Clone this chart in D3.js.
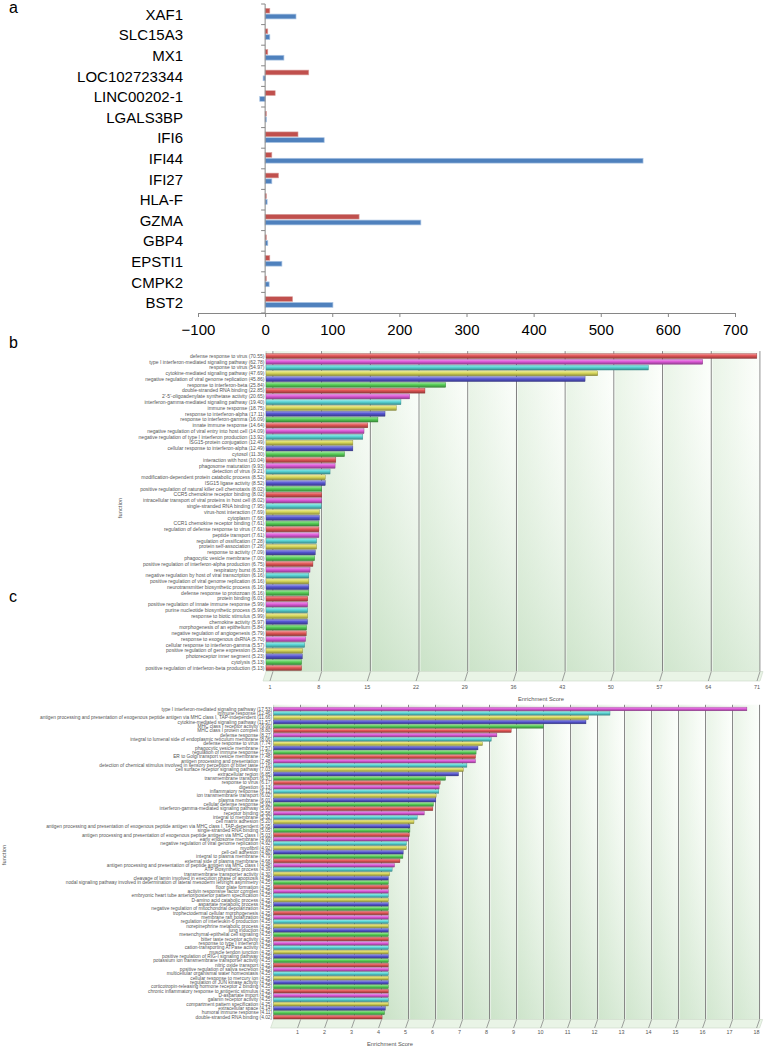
<!DOCTYPE html>
<meta charset="utf-8">
<style>
body { margin: 0; background: #fff; font-family: "Liberation Sans", Arial, sans-serif; }
svg { display: block; }
</style>
<body>
<svg width="764" height="1049"></svg>
<script src="https://d3js.org/d3.v7.min.js"></script>
<script>

// ---- panel a : gene fold changes ----
var geneNames = ["XAF1", "SLC15A3", "MX1", "LOC102723344", "LINC00202-1", "LGALS3BP", "IFI6",
    "IFI44", "IFI27", "HLA-F", "GZMA", "GBP4", "EPSTI1", "CMPK2", "BST2"];
var seriesRed  = [7, 4, 4, 65, 15, 2, 49, 10, 20, 2, 140, 2, 7, 2, 41];
var seriesBlue = [46, 7, 28, -3, -8, 2, 88, 563, 10, 3, 232, 4, 25, 6, 101];
var geneTicks = [-100, 0, 100, 200, 300, 400, 500, 600, 700];

// ---- panel b : enrichment (all terms) ----
var termsB = ["defense response to virus", "type I interferon-mediated signaling pathway", "response to virus",
    "cytokine-mediated signaling pathway", "negative regulation of viral genome replication", "response to interferon-beta",
    "double-stranded RNA binding", "2'-5'-oligoadenylate synthetase activity", "interferon-gamma-mediated signaling pathway",
    "immune response", "response to interferon-alpha", "response to interferon-gamma", "innate immune response",
    "negative regulation of viral entry into host cell", "negative regulation of type I interferon production",
    "ISG15-protein conjugation", "cellular response to interferon-alpha", "cytosol", "interaction with host",
    "phagosome maturation", "detection of virus", "modification-dependent protein catabolic process", "ISG15 ligase activity",
    "positive regulation of natural killer cell chemotaxis", "CCR5 chemokine receptor binding",
    "intracellular transport of viral proteins in host cell", "single-stranded RNA binding", "virus-host interaction",
    "cytoplasm", "CCR1 chemokine receptor binding", "regulation of defense response to virus", "peptide transport",
    "regulation of ossification", "protein self-association", "response to activity", "phagocytic vesicle membrane",
    "positive regulation of interferon-alpha production", "respiratory burst", "negative regulation by host of viral transcription",
    "positive regulation of viral genome replication", "neurotransmitter biosynthetic process", "defense response to protozoan",
    "protein binding", "positive regulation of innate immune response", "purine nucleotide biosynthetic process",
    "response to biotic stimulus", "chemokine activity", "morphogenesis of an epithelium", "negative regulation of angiogenesis",
    "response to exogenous dsRNA", "cellular response to interferon-gamma", "positive regulation of gene expression",
    "photoreceptor inner segment", "cytolysis", "positive regulation of interferon-beta production"];
var scoresB = [70.55, 62.78, 54.97, 47.69, 45.86, 25.84, 22.85, 20.65, 19.40, 18.75, 17.11, 16.09, 14.64, 14.09, 13.92,
    12.49, 12.49, 11.30, 10.04, 9.93, 9.21, 8.52, 8.52, 8.02, 8.02, 8.02, 7.95, 7.69, 7.68, 7.61, 7.61, 7.61, 7.28, 7.28,
    7.09, 7.00, 6.75, 6.33, 6.16, 6.16, 6.16, 6.16, 6.01, 5.99, 5.99, 5.99, 5.97, 5.84, 5.79, 5.70, 5.57, 5.28, 5.23, 5.13, 5.13];
var ticksB = [1, 8, 15, 22, 29, 36, 43, 50, 57, 64, 71];

// ---- panel c : enrichment (second set) ----
var termsC = ["type I interferon-mediated signaling pathway", "immune response",
    "antigen processing and presentation of exogenous peptide antigen via MHC class I, TAP-independent",
    "cytokine-mediated signaling pathway", "MHC class I receptor activity", "MHC class I protein complex", "defense response",
    "integral to lumenal side of endoplasmic reticulum membrane", "defense response to virus", "phagocytic vesicle membrane",
    "regulation of immune response", "ER to Golgi transport vesicle membrane", "antigen processing and presentation",
    "detection of chemical stimulus involved in sensory perception of bitter taste", "cell surface receptor signaling pathway",
    "extracellular region", "transmembrane transport", "response to virus", "digestion", "inflammatory response",
    "ion transmembrane transport", "plasma membrane", "cellular defense response", "interferon-gamma-mediated signaling pathway",
    "receptor binding", "integral to membrane", "cell matrix adhesion",
    "antigen processing and presentation of exogenous peptide antigen via MHC class I, TAP-dependent",
    "single-stranded RNA binding", "antigen processing and presentation of exogenous peptide antigen via MHC class I",
    "early endosome membrane", "negative regulation of viral genome replication", "myofibril", "cell-cell adhesion",
    "integral to plasma membrane", "external side of plasma membrane",
    "antigen processing and presentation of peptide antigen via MHC class I", "ATP biosynthetic process",
    "transmembrane transporter activity", "cleavage of lamin involved in execution phase of apoptosis",
    "nodal signaling pathway involved in determination of lateral mesoderm left/right asymmetry", "floor plate formation",
    "activin responsive factor complex", "embryonic heart tube anterior/posterior pattern specification",
    "D-amino acid catabolic process", "aspartate metabolic process", "negative regulation of mitochondrial depolarization",
    "trophectodermal cellular morphogenesis", "membrane raft polarization", "regulation of interleukin-6 production",
    "norepinephrine metabolic process", "lung induction", "mesenchymal-epithelial cell signaling",
    "bitter taste receptor activity", "response to type I interferon", "cation-transporting ATPase activity",
    "muscle tendon junction", "positive regulation of RIG-I signaling pathway",
    "potassium ion transmembrane transporter activity", "nitric oxide transport", "positive regulation of saliva secretion",
    "multicellular organismal water homeostasis", "cellular response to mercury ion", "regulation of JUN kinase activity",
    "corticotropin-releasing hormone receptor 2 binding", "chronic inflammatory response to antigenic stimulus",
    "D-aspartate import", "galanin receptor activity", "compartment pattern specification", "extracellular space",
    "humoral immune response", "double-stranded RNA binding"];
var scoresC = [17.53, 12.46, 11.66, 11.57, 9.99, 8.80, 8.27, 8.06, 7.74, 7.57, 7.50, 7.48, 7.48, 7.16, 7.03, 6.85, 6.37,
    6.17, 6.13, 6.12, 6.02, 6.01, 5.92, 5.90, 5.58, 5.32, 5.20, 5.05, 5.05, 5.03, 4.99, 4.92, 4.92, 4.80, 4.79, 4.68,
    4.48, 4.39, 4.30, 4.25, 4.25, 4.25, 4.25, 4.25, 4.25, 4.25, 4.25, 4.25, 4.25, 4.25, 4.25, 4.25, 4.25, 4.25,
    4.25, 4.25, 4.25, 4.25, 4.25, 4.25, 4.25, 4.25, 4.25, 4.25, 4.25, 4.25, 4.25, 4.25, 4.25, 4.14, 4.11, 4.02];
var ticksC = [1, 2, 3, 4, 5, 6, 7, 8, 9, 10, 11, 12, 13, 14, 15, 16, 17, 18];

var svg = d3.select("svg");
var defs = svg.append("defs");

// bar colours cycle in the enrichment charts
var palette = ["#e25656", "#de5bd9", "#58d5d5", "#d9d95b", "#5656d2", "#57cf57"];
palette.forEach(function(c, i) {
    var gr = defs.append("linearGradient").attr("id", "bar" + i)
        .attr("x1", 0).attr("y1", 0).attr("x2", 0).attr("y2", 1);
    gr.append("stop").attr("offset", "0%").attr("stop-color", d3.interpolateRgb(c, "#fff")(0.45));
    gr.append("stop").attr("offset", "45%").attr("stop-color", c);
    gr.append("stop").attr("offset", "100%").attr("stop-color", d3.interpolateRgb(c, "#000")(0.35));
});
var cellGrad = defs.append("linearGradient").attr("id", "cell").attr("x1", 0).attr("x2", 1);
cellGrad.append("stop").attr("offset", "0%").attr("stop-color", "#dfefdc");
cellGrad.append("stop").attr("offset", "100%").attr("stop-color", "#fbfefa");
var shade = defs.append("linearGradient").attr("id", "shade")
    .attr("x1", 0).attr("y1", 1).attr("x2", 0.25).attr("y2", 0);
shade.append("stop").attr("offset", "0%").attr("stop-color", "#b5d6b2").attr("stop-opacity", 0.6);
shade.append("stop").attr("offset", "100%").attr("stop-color", "#ffffff").attr("stop-opacity", 0.3);

// ---------------- panel a ----------------
var xA = d3.scaleLinear().domain([-100, 700]).range([198, 735]);
var yA = d3.scaleBand().domain(geneNames).range([4, 313]);
var gA = svg.append("g");

gA.selectAll(".red").data(geneNames).enter().append("rect")
    .attr("x", function(d, i) { return Math.min(xA(0), xA(seriesRed[i])); })
    .attr("y", function(d) { return yA(d) + 4.3; })
    .attr("width", function(d, i) { return Math.abs(xA(seriesRed[i]) - xA(0)); })
    .attr("height", 4.8)
    .attr("fill", "#c0504d").attr("stroke", "#dba3a1").attr("stroke-width", 0.6);
gA.selectAll(".blue").data(geneNames).enter().append("rect")
    .attr("x", function(d, i) { return Math.min(xA(0), xA(seriesBlue[i])); })
    .attr("y", function(d) { return yA(d) + 10.1; })
    .attr("width", function(d, i) { return Math.abs(xA(seriesBlue[i]) - xA(0)); })
    .attr("height", 4.8)
    .attr("fill", "#4f81bd").attr("stroke", "#a9c3e3").attr("stroke-width", 0.7);

gA.append("line").attr("x1", xA(0)).attr("x2", xA(0)).attr("y1", 4).attr("y2", 313)
    .attr("stroke", "#868686");
gA.selectAll(".ytick").data(geneNames.concat(["end"])).enter().append("line")
    .attr("x1", xA(0) - 4).attr("x2", xA(0))
    .attr("y1", function(d) { return d == "end" ? 313 : yA(d); })
    .attr("y2", function(d) { return d == "end" ? 313 : yA(d); })
    .attr("stroke", "#868686");
gA.selectAll(".gene").data(geneNames).enter().append("text")
    .attr("x", 183).attr("y", function(d) { return yA(d) + yA.bandwidth() / 2; })
    .attr("dy", "0.36em").attr("text-anchor", "end")
    .style("font-size", "15px").text(function(d) { return d; });

var axA = gA.append("g").attr("transform", "translate(0,313)")
    .call(d3.axisBottom(xA).tickValues(geneTicks).tickSize(4).tickPadding(7).tickFormat(d3.format("d")));
axA.select(".domain").attr("stroke", "#868686");
axA.selectAll(".tick line").attr("stroke", "#868686");
axA.selectAll("text").style("font-size", "15px").style("font-family", "Liberation Sans, Arial, sans-serif")
    .attr("fill", "#000");

// ---------------- panels b and c ----------------
function enrichment(o) {
    var g = svg.append("g");
    var x = d3.scaleLinear().domain([0, o.max]).range([o.left, o.right]);
    var y = d3.scaleBand().domain(d3.range(o.terms.length)).range([o.top, o.bottom]);
    var wallTop = o.top - 2;
    var edges = [0].concat(o.ticks);

    // back wall
    g.selectAll(".cell").data(edges.slice(1)).enter().append("rect")
        .attr("x", function(d, i) { return x(edges[i]); })
        .attr("y", wallTop)
        .attr("width", function(d, i) { return x(d) - x(edges[i]); })
        .attr("height", o.floorTop - wallTop)
        .attr("fill", "url(#cell)");
    g.append("rect").attr("x", x(0)).attr("y", wallTop)
        .attr("width", x(o.max) - x(0)).attr("height", o.floorTop - wallTop)
        .attr("fill", "url(#shade)");
    g.append("line").attr("x1", x(0)).attr("x2", x(0)).attr("y1", wallTop).attr("y2", o.floorTop)
        .attr("stroke", "#b9c4b8").attr("stroke-width", 0.6);
    g.selectAll(".grid").data(o.ticks).enter().append("line")
        .attr("x1", function(d) { return x(d); }).attr("x2", function(d) { return x(d); })
        .attr("y1", wallTop).attr("y2", o.floorTop)
        .attr("stroke", "#7e7e7e").attr("stroke-width", 1);
    g.selectAll(".gridhi").data(o.ticks).enter().append("line")
        .attr("x1", function(d) { return x(d) + 1; }).attr("x2", function(d) { return x(d) + 1; })
        .attr("y1", wallTop).attr("y2", o.floorTop)
        .attr("stroke", "#ffffff").attr("stroke-width", 0.6);

    // floor
    g.append("polygon")
        .attr("points", [[x(0), o.floorTop], [x(o.max) + 3, o.floorTop], [x(o.max), o.floorBot], [x(0) - 3, o.floorBot]].join(" "))
        .attr("fill", "#e9f4e6").attr("stroke", "#c9d6c6").attr("stroke-width", 0.6);
    g.selectAll(".ftick").data(o.ticks).enter().append("line")
        .attr("x1", function(d) { return x(d); }).attr("x2", function(d) { return x(d) - 3; })
        .attr("y1", o.floorTop).attr("y2", o.floorBot)
        .attr("stroke", "#7a7a7a").attr("stroke-width", 0.7);
    g.selectAll(".flab").data(o.ticks).enter().append("text")
        .attr("x", function(d) { return x(d) - 3; }).attr("y", o.tickY)
        .attr("dy", "0.35em").attr("text-anchor", "middle")
        .style("font-size", "5.4px").attr("fill", "#555").text(function(d) { return d; });

    // bars
    var bh = y.bandwidth() * 0.86;
    g.selectAll(".bar").data(o.scores).enter().append("rect")
        .attr("x", x(0))
        .attr("y", function(d, i) { return y(i) + (y.bandwidth() - bh) / 2; })
        .attr("width", function(d) { return x(d) - x(0); })
        .attr("height", bh)
        .attr("fill", function(d, i) { return "url(#bar" + ((i + o.offset) % 6) + ")"; })
        .attr("stroke", function(d, i) { return d3.interpolateRgb(palette[(i + o.offset) % 6], "#000")(0.4); })
        .attr("stroke-width", 0.35);

    // term labels
    g.selectAll(".term").data(o.terms).enter().append("text")
        .attr("x", x(0) - 1.5)
        .attr("y", function(d, i) { return y(i) + y.bandwidth() / 2; })
        .attr("dy", "0.35em").attr("text-anchor", "end")
        .style("font-size", o.font + "px").attr("fill", "#555")
        .text(function(d, i) { return d + " (" + o.scores[i].toFixed(2) + ")"; });

    g.append("text").attr("x", o.titleX).attr("y", o.titleY).attr("dy", "0.35em")
        .attr("text-anchor", "middle").style("font-size", "5.8px").attr("fill", "#555")
        .text("Enrichment Score");
    g.append("text").attr("transform", "translate(" + o.funcX + "," + o.funcY + ") rotate(-90)")
        .attr("text-anchor", "middle").attr("dy", "0.35em")
        .style("font-size", "5.8px").attr("fill", "#555").text("function");
}

enrichment({terms: termsB, scores: scoresB, ticks: ticksB, max: 71, offset: 0,
    left: 266, right: 760, top: 353.1, bottom: 670.9, floorTop: 671.5, floorBot: 681,
    tickY: 687, titleX: 541, titleY: 699, funcX: 120, funcY: 508, font: 5});
enrichment({terms: termsC, scores: scoresC, ticks: ticksC, max: 18, offset: 1,
    left: 273.6, right: 759.6, top: 706.8, bottom: 1019.3, floorTop: 1019.5, floorBot: 1028,
    tickY: 1032, titleX: 390, titleY: 1044, funcX: 4, funcY: 855, font: 4.8});

// panel letters
svg.selectAll(".panel").data([["a", 13], ["b", 348], ["c", 602]]).enter().append("text")
    .attr("x", 9).attr("y", function(d) { return d[1]; })
    .style("font-size", "16px").text(function(d) { return d[0]; });

</script>
